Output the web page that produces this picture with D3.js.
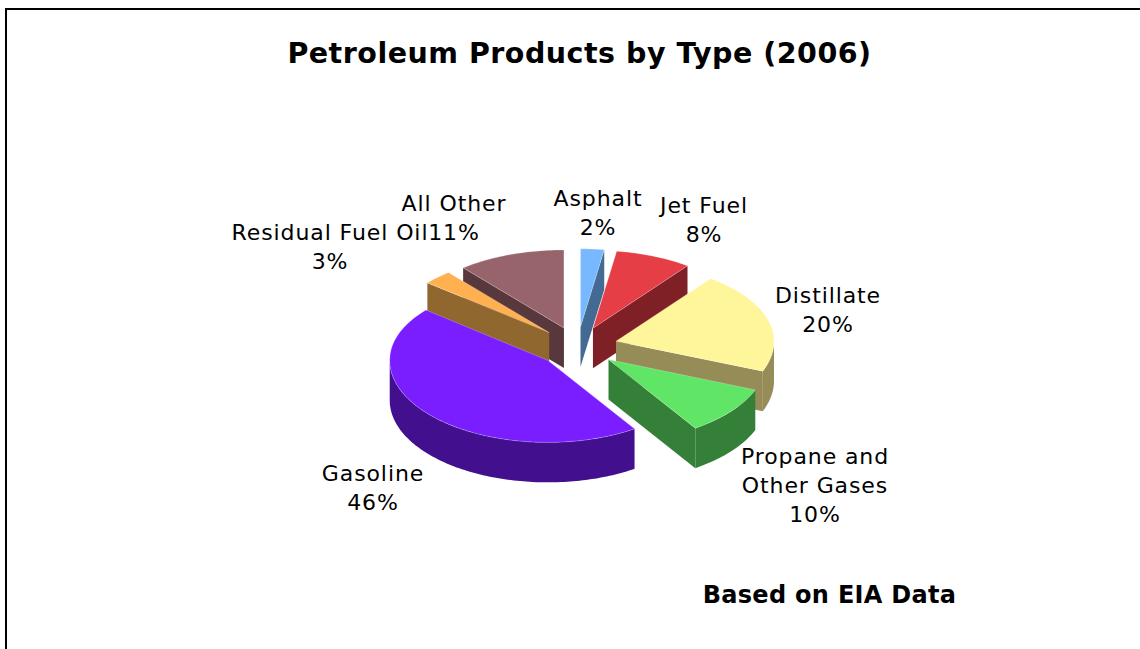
<!DOCTYPE html>
<html>
<head>
<meta charset="utf-8">
<script src="https://cdn.jsdelivr.net/npm/d3@7/dist/d3.min.js"></script>
<style>
html,body{margin:0;padding:0;background:#fff}
svg{display:block}
text{font-family:"DejaVu Sans",Verdana,sans-serif;fill:#000}
</style>
</head>
<body>
<svg id="chart" width="1140" height="649"></svg>
<script>
const categories = ["Asphalt","Jet Fuel","Distillate","Propane and Other Gases","Gasoline","Residual Fuel Oil","All Other"];
const values = [2.4,7.8,20.8,9.7,45.2,3.0,11.0];
const topColors = ["#78b8ff","#e53e46","#fff59a","#60e566","#7a1dff","#ffb050","#96646a"];
const sideColors = ["#436a93","#7f2026","#958c58","#358039","#42108f","#8f672f","#58383c"];
const labelLines = [["Asphalt","2%"],["Jet Fuel","8%"],["Distillate","20%"],["Propane and","Other Gases","10%"],["Gasoline","46%"],["Residual Fuel Oil","3%"],["All Other","11%"]];
const labelAnchors = [[598,206],[704,213],[828,303],[815,464],[373,481],[330,240],[454,211]];
const drawOrder = [0,6,1,5,2,3,4];

const W = 1140, H = 649;
const svg = d3.select("#chart");
const cx = 577.5, cy = 346.5, rx = 158, ryBack = 78, ryFront = 82, depth = 40, explode = 40;

const sx = d3.scaleLinear().domain([-1,1]).range([cx-rx, cx+rx]);
const sy = d3.scaleLinear().domain([-1,0,1]).range([cy-ryBack, cy, cy+ryFront]);

const slices = d3.pie().sort(null).startAngle(0).endAngle(2*Math.PI)(values);

// frame
svg.append("rect").attr("x",6).attr("y",9).attr("width",W+10).attr("height",H+10)
   .attr("fill","#fff").attr("stroke","#000").attr("stroke-width",2);

function build(s){
  const mid = (s.startAngle+s.endAngle)/2;
  const off = explode/rx;
  const ox = off*Math.sin(mid), oy = -off*Math.cos(mid);
  const px = (a,k,dz=0)=>[sx(ox+k*Math.sin(a)), sy(oy-k*Math.cos(a))+dz];
  return {mid,px};
}
const line = d3.line();
function arcPts(px,a0,a1,dz){
  const n = Math.max(2,Math.ceil((a1-a0)/0.02));
  return d3.range(n+1).map(i=>px(a0+(a1-a0)*i/n,1,dz));
}

drawOrder.forEach(i=>{
  const s = slices[i], {px} = build(s);
  const g = svg.append("g").attr("class","slice");
  const a = s.startAngle, b = s.endAngle;
  const side = sideColors[i], top = topColors[i];
  const apex = px(0,0), apexB = px(0,0,depth);
  const face = ang => line([apex,px(ang,1),px(ang,1,depth),apexB])+"Z";
  if(Math.sin(a) < -1e-6) g.append("path").attr("d",face(a)).attr("fill",side);
  if(Math.sin(b) > 1e-6) g.append("path").attr("d",face(b)).attr("fill",side);
  const w0 = Math.max(a,Math.PI/2), w1 = Math.min(b,3*Math.PI/2);
  if(w1>w0){
    const pts = arcPts(px,w0,w1,0).concat(arcPts(px,w0,w1,depth).reverse());
    g.append("path").attr("d",line(pts)+"Z").attr("fill",side);
  }
  g.append("path").attr("d",line([apex].concat(arcPts(px,a,b,0)))+"Z").attr("fill",top)
   .attr("stroke","#fff").attr("stroke-opacity",0.3).attr("stroke-width",0.8);
});

// texts
svg.append("text").attr("x",579.5).attr("y",63).attr("text-anchor","middle")
   .attr("font-size",28.5).attr("font-weight","bold").attr("letter-spacing",0.5).text("Petroleum Products by Type (2006)");
svg.append("text").attr("x",829.5).attr("y",603).attr("text-anchor","middle")
   .attr("font-size",24).attr("font-weight","bold").attr("letter-spacing",0.3).text("Based on EIA Data");

categories.forEach((c,i)=>{
  const t = svg.append("text").attr("text-anchor","middle").attr("font-size",22).attr("letter-spacing",0.9).attr("aria-label",c);
  labelLines[i].forEach((l,j)=>{
    t.append("tspan").attr("x",labelAnchors[i][0]).attr("y",labelAnchors[i][1]+j*29).text(l);
  });
});
</script>
</body>
</html>
